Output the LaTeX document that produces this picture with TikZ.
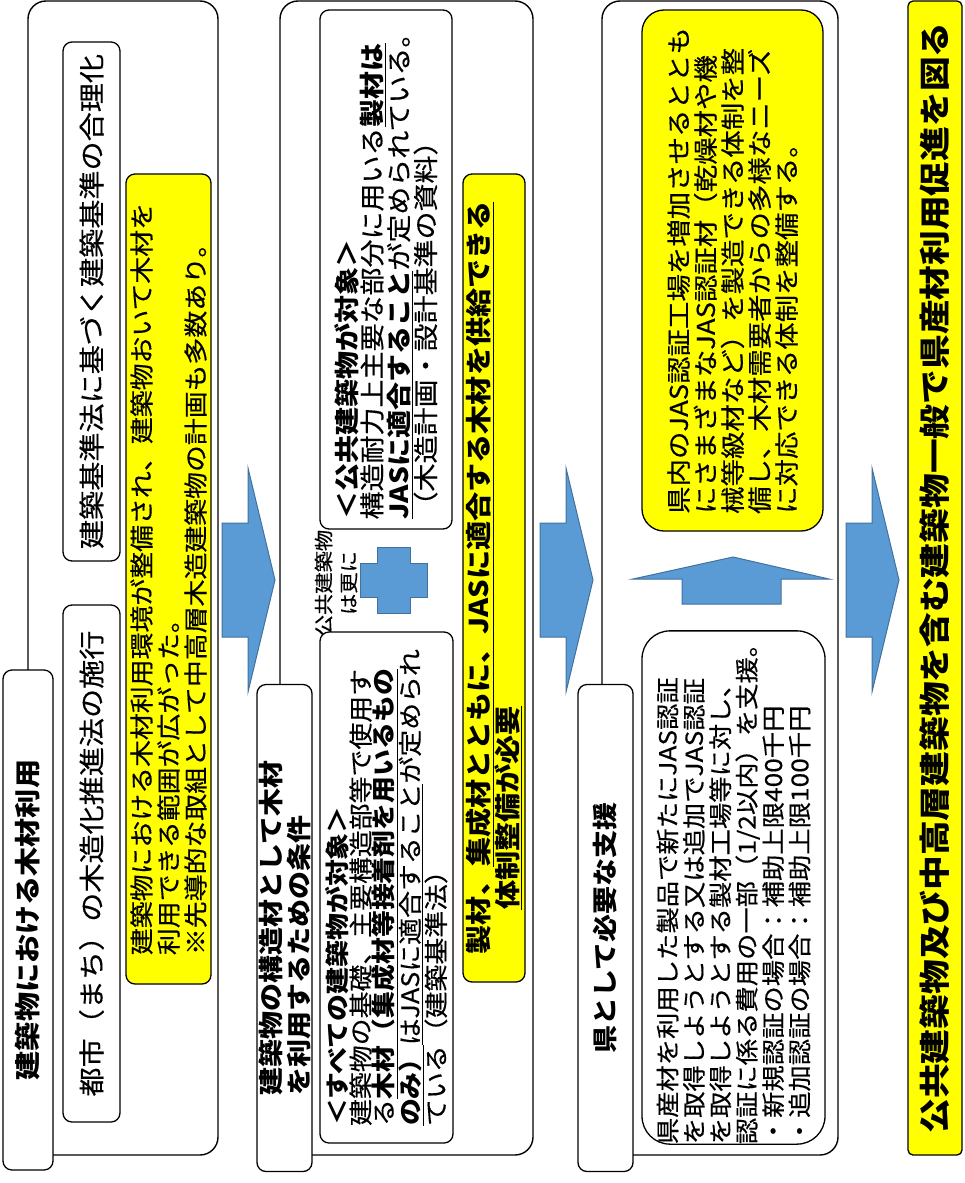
\documentclass[tikz,border=0pt]{standalone}
\usepackage{fontspec}
\setmainfont{Noto Sans CJK JP}[FakeStretch=1.12, UprightFeatures={FakeBold=0.4}]
\begin{document}
\begin{tikzpicture}[x=1pt,y=-1pt,
    frame/.style={draw, line width=1.4pt, rounded corners=18pt},
    vbox/.style={draw, fill=white, line width=1.3pt, rounded corners=9pt, rotate=90, inner sep=0pt},
    ybox/.style={vbox, fill=kiiro},
    head/.style={vbox, align=center, font=\bfseries\fontsize{25}{28}\selectfont},
    blockarrow/.style={fill=aoRF, draw=aoline, line width=1pt}]
        \definecolor{kiiro}{RGB}{255, 255, 0}
        \definecolor{aoRF}{RGB}{91, 155, 213}
        \definecolor{aoline}{RGB}{65, 113, 156}
        \useasboundingbox (0,0) rectangle (964,1183);
        % three columns
        \draw[frame] (28,1) rectangle (218,1155);
        \draw[frame] (280,1) rectangle (533,1155);
        \draw[frame] (602,1) rectangle (838,1155);
        \foreach \ax in {222,540,846}
            \draw[blockarrow] (\ax,523) -- (\ax+26,523) -- (\ax+26,468) -- (\ax+53,580)
                -- (\ax+26,692) -- (\ax+26,637) -- (\ax,637) -- cycle;
        % column 1
        \node[head, minimum width=500, minimum height=50, font=\bfseries\fontsize{26}{28}\selectfont] (title1) at (28,920) {建築物における木材利用};
        \node[vbox, minimum width=519, minimum height=57, font=\fontsize{26}{28}\selectfont] (kijun) at (91.5,301.5) {建築基準法に基づく建築基準の合理化};
        \node[vbox, minimum width=517, minimum height=57, font=\fontsize{26}{28}\selectfont] (toshi) at (91.5,863.5) {都市（まち）の木造化推進法の施行};
        \node[ybox, minimum width=810, minimum height=85, align=left, font=\fontsize{24}{27}\selectfont] (riyou) at (168.5,579)
            {建築物における木材利用環境が整備され、建築物おいて木材を\\利用できる範囲が広がった。\\※先導的な取組として中高層木造建築物の計画も多数あり。};
        % column 2
        \node[head, minimum width=487, minimum height=55, align=left] (title2) at (284.5,928) {建築物の構造材として木材\\を利用するための条件};
        \node[vbox, minimum width=519, minimum height=132, align=left, font=\fontsize{25}{25}\selectfont] (koukyou) at (386,269.5)
            {\textbf{＜公共建築物が対象＞}\\
             構造耐力上主要な部分に用いる\textbf{\underline{製材は}}\\
             \textbf{\underline{JASに適合すること}}が定められている。\\
             （木造計画・設計基準の資料）};
        \node[rotate=90, align=center, font=\fontsize{19}{25}\selectfont] (sarani) at (336,583) {公共建築物\\は更に};
        \draw[blockarrow] (377,547) -- (410,547) -- (410,563) -- (427,563) -- (427,597) -- (410,597)
            -- (410,613) -- (377,613) -- (377,597) -- (360,597) -- (360,563) -- (377,563) -- cycle;
        \node[vbox, minimum width=511, minimum height=133, align=left, font=\fontsize{24}{23}\selectfont] (subete) at (386.5,887.5)
            {\textbf{＜すべての建築物が対象＞}\\
             建築物の基礎、主要構造部等で使用す\\
             る\textbf{\underline{木材（集成材等接着剤を用いるもの}}\\
             \textbf{\underline{のみ）}}\underline{はJASに適合すること}が定められ\\
             ている（建築基準法）};
        \node[ybox, minimum width=808, minimum height=62, align=left, font=\bfseries\fontsize{26}{27}\selectfont] (kyoukyu) at (494,578)
            {製材、\underline{集成材とともに、JASに適合する木材を供給できる}\\
             \hspace*{1.7em}\underline{体制整備が必要}};
        % column 3
        \node[head, minimum width=487, minimum height=55] (title3) at (605.5,928) {県として必要な支援};
        \node[ybox, minimum width=521, minimum height=181, rounded corners=22pt, align=left, font=\fontsize{24.5}{27}\selectfont] (seibi) at (732.5,270.5)
            {県内のJAS認証工場を増加させるととも\\
             にさまざまなJAS認証材（乾燥材や機\\
             械等級材など）を製造できる体制を整\\
             備し、木材需要者からの多様なニーズ\\
             に対応できる体制を整備する。};
        \draw[blockarrow] (682,604) -- (682,579) -- (633,579) -- (733,557) -- (829,579) -- (781,579) -- (781,604) -- cycle;
        \node[vbox, minimum width=511, minimum height=183, rounded corners=28pt, align=left, font=\fontsize{23.5}{26.4}\selectfont] (shien) at (733.5,887.5)
            {県産材を利用した製品で新たにJAS認証\\
             を取得しようとする又は追加でJAS認証\\
             を取得しようとする製材工場等に対し、\\
             認証に係る費用の一部（1/2以内）を支援。\\
             ・新規認証の場合：補助上限400千円\\
             ・追加認証の場合：補助上限100千円};
        % result
        \node[ybox, minimum width=1154, minimum height=54, rounded corners=5pt, font=\bfseries\fontsize{31}{33}\selectfont] (sokushin) at (935,578)
            {公共建築物及び中高層建築物を含む建築物一般で県産材利用促進を図る};
\end{tikzpicture}
\end{document}
